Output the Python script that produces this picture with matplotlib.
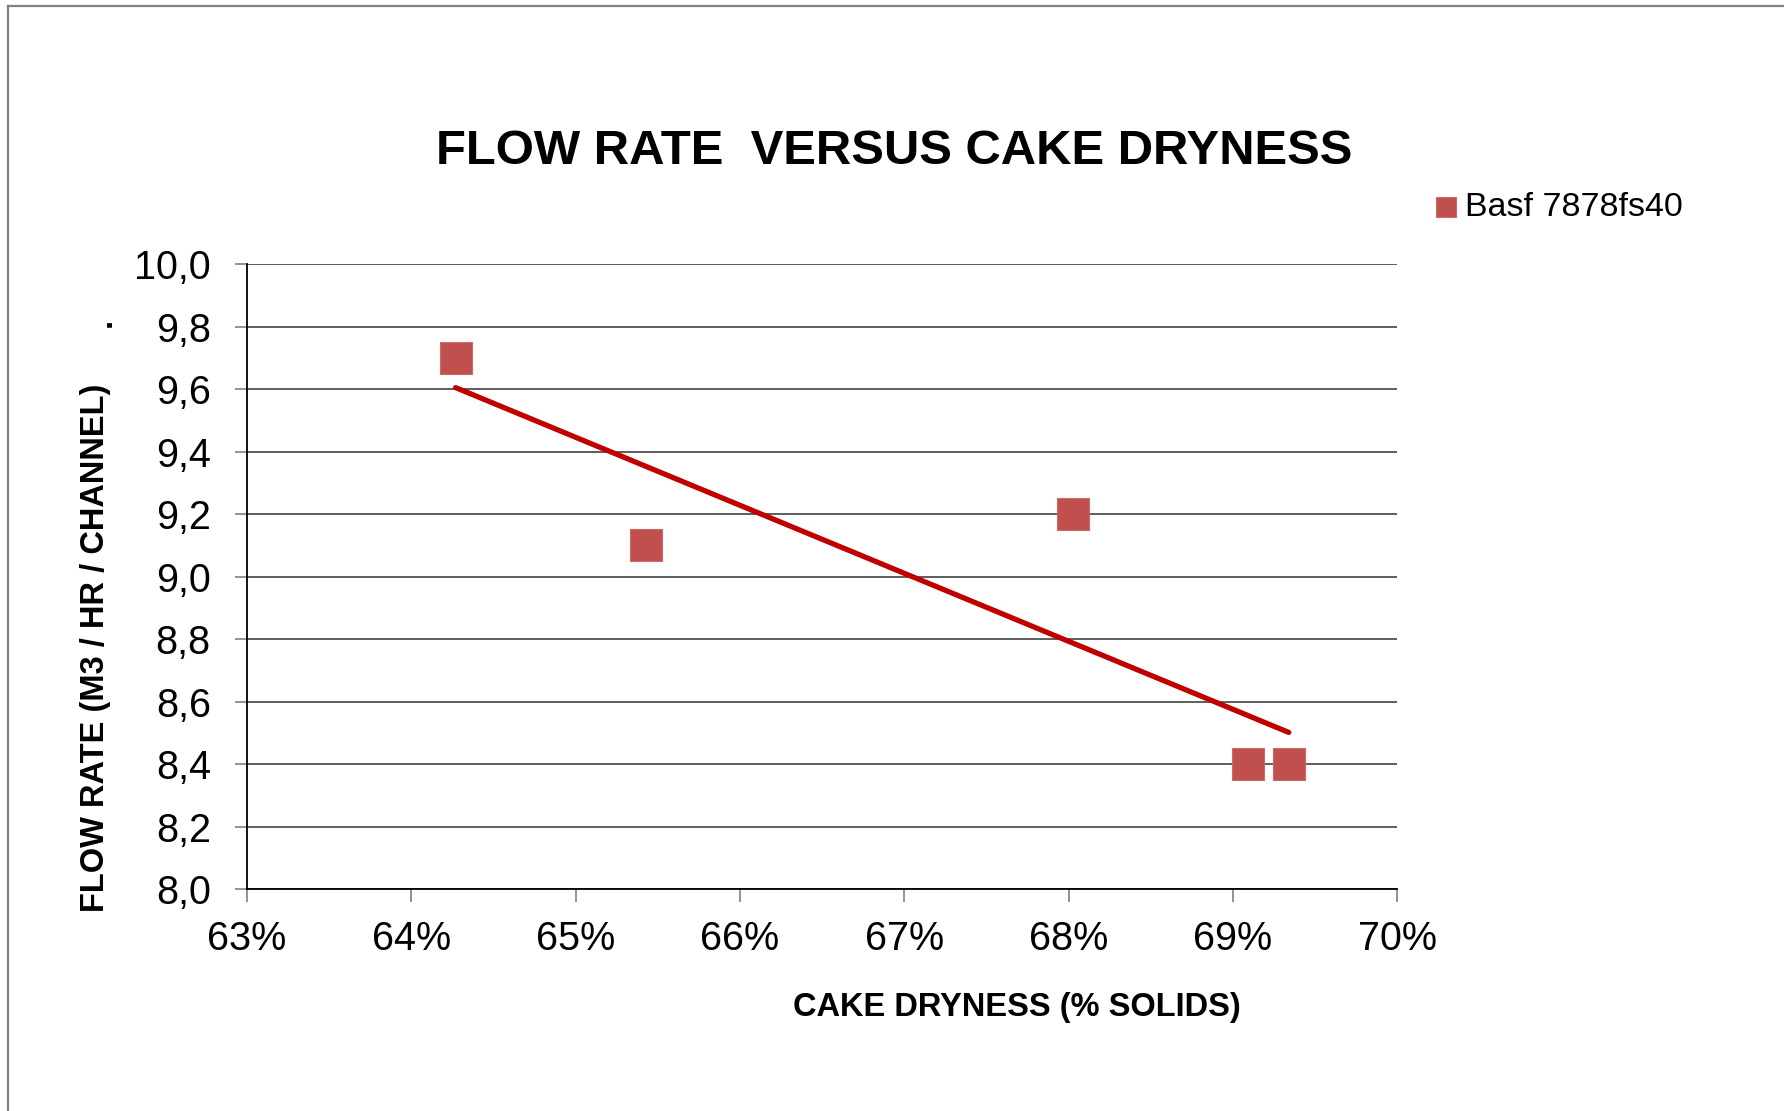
import matplotlib
matplotlib.use("Agg")
import matplotlib.pyplot as plt
import numpy as np
from matplotlib.lines import Line2D
from matplotlib.ticker import FuncFormatter, MultipleLocator

plt.rcParams['font.family'] = ['Liberation Sans', 'DejaVu Sans']

# data
series_name = "Basf 7878fs40"
dryness_pct = [64.27, 65.43, 68.03, 69.09, 69.34]   # cake dryness, % solids
flow_rate = [9.7, 9.1, 9.2, 8.4, 8.4]                # m3 / hr / channel

title = "FLOW RATE  VERSUS CAKE DRYNESS"
x_label = "CAKE DRYNESS (% SOLIDS)"
y_label = "FLOW RATE (M3 / HR / CHANNEL)"

marker_color = '#C0504D'
trend_color = '#C00000'

fig = plt.figure(figsize=(17.84, 11.11), dpi=100)
ax = fig.add_axes([0.1384, 0.1998, 0.7832 - 0.1384, 0.7623 - 0.1998])

# linear trend line (least squares over the points)
coef = np.polyfit(dryness_pct, flow_rate, 1)
xt = np.array([min(dryness_pct), max(dryness_pct)])
ax.plot(xt, np.polyval(coef, xt), color=trend_color, lw=3.8,
        solid_capstyle='round', zorder=3)

ax.scatter(dryness_pct, flow_rate, marker='s', s=22.5 ** 2, color=marker_color,
           edgecolors='#cc6a67', linewidths=0.8, zorder=4, label=series_name)

ax.set_xlim(63, 70)
ax.set_ylim(8.0, 10.0)
ax.xaxis.set_major_locator(MultipleLocator(1))
ax.yaxis.set_major_locator(MultipleLocator(0.2))
ax.xaxis.set_major_formatter(FuncFormatter(lambda v, p: f"{v:.0f}%"))
ax.yaxis.set_major_formatter(FuncFormatter(lambda v, p: f"{v:.1f}".replace('.', ',')))

ax.grid(axis='y', color='#505050', lw=1.3)
ax.set_axisbelow(True)
for s in ['top', 'right']:
    ax.spines[s].set_visible(False)
for s in ['left', 'bottom']:
    ax.spines[s].set_color('black')
    ax.spines[s].set_linewidth(1.3)
ax.tick_params(axis='both', direction='out', length=9, width=1.2, color='#808080',
               labelsize=28.5)
ax.tick_params(axis='y', pad=17)
ax.tick_params(axis='x', pad=13)

fig.text(0.501, 0.8635, title, ha='center', va='center', fontsize=35.3, fontweight='bold')
fig.text(0.570, 0.0935, x_label, ha='center', va='center', fontsize=23.5, fontweight='bold')
fig.text(0.0536, 0.417, y_label, ha='center', va='center', rotation=90,
         fontsize=23.5, fontweight='bold')
fig.text(0.0574, 0.710, ".", ha='center', va='center', rotation=90,
         fontsize=23.5, fontweight='bold')

fig.legend(loc='center left', bbox_to_anchor=(0.7915, 0.8135), frameon=False,
           fontsize=24.5, markerscale=0.62, handletextpad=0.05, borderpad=0,
           handlelength=1.0)

# outer frame (only left and top edges are visible in the original)
fig.add_artist(Line2D([0.0045, 0.0045], [0.0, 0.9946], transform=fig.transFigure,
                      color='#808080', lw=1.6))
fig.add_artist(Line2D([0.0045, 1.0], [0.9946, 0.9946], transform=fig.transFigure,
                      color='#808080', lw=1.6))

fig.savefig("out.png", dpi=100)
